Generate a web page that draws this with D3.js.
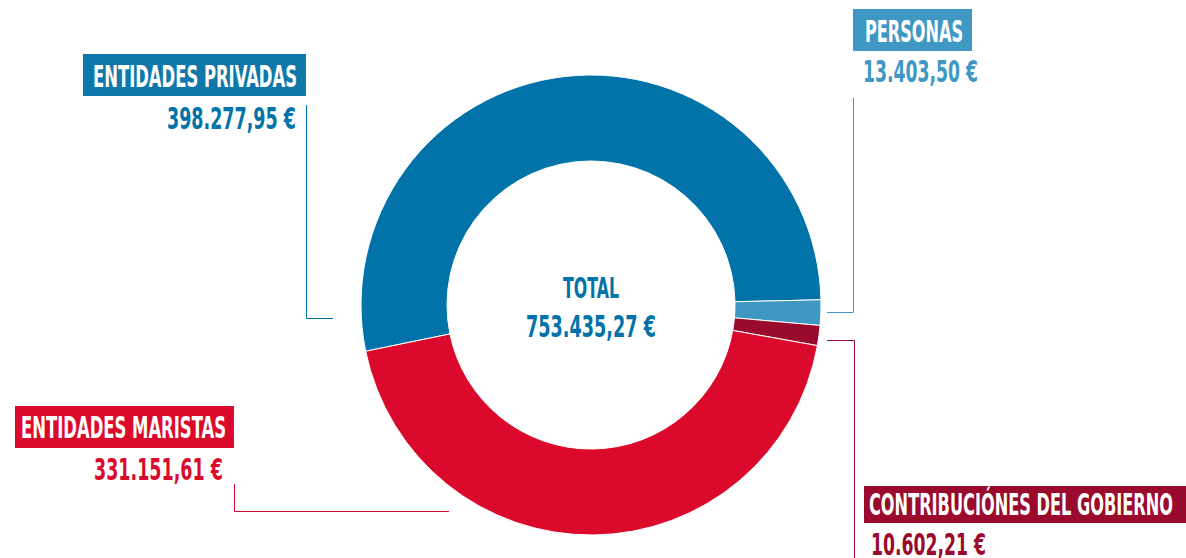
<!DOCTYPE html>
<html>
<head>
<meta charset="utf-8">
<script src="https://cdn.jsdelivr.net/npm/d3@7"></script>
<style>
  html, body { margin: 0; padding: 0; background: #fff; }
  svg { display: block; }
  text { font-family: "Liberation Sans Narrow", "DejaVu Sans Condensed", "Roboto", sans-serif; font-weight: bold; font-stretch: condensed; }
</style>
</head>
<body>
<svg id="chart" width="1186" height="558"></svg>
<script>
// ---- data ----
const categories = ["ENTIDADES PRIVADAS", "PERSONAS", "CONTRIBUCIÓNES DEL GOBIERNO", "ENTIDADES MARISTAS"];
const values = [398277.95, 13403.50, 10602.21, 331151.61];
const valueLabels = ["398.277,95 €", "13.403,50 €", "10.602,21 €", "331.151,61 €"];
const totalLabel = "TOTAL";
const totalValueLabel = "753.435,27 €";

// ---- styles / layout (separate from data) ----
const colors = ["#0173a9", "#3f97c4", "#990a2c", "#db0a2c"];
const boxColors = ["#1077ab", "#3f97c4", "#990a2c", "#db0a2c"];
const layout = [
  { box: [83, 54, 223, 42], title: [93, 87, 204, "start"], value: [296, 129, 129, "end"], leader: "M306.5,105 V318.5 H333" },
  { box: [853, 9, 119, 42], title: [865, 42, 98, "start"], value: [863, 82, 115, "start"], leader: "M853.5,98 V312.5 H827" },
  { box: [864, 486, 322, 37], title: [869, 515, 304, "start"], value: [871, 555, 115, "start"], leader: "M854.5,560 V340.5 H827" },
  { box: [15, 406, 219, 42], title: [21, 438, 205, "start"], value: [223, 480, 129, "end"], leader: "M234.5,484 V511.5 H449" }
];

const svg = d3.select("#chart");
const cx = 591, cy = 305, R = 230, r = 144;

const pie = d3.pie().sort(null).value(d => d)
  .startAngle(-101.6 * Math.PI / 180)
  .endAngle((360 - 101.6) * Math.PI / 180);
const arc = d3.arc().innerRadius(r).outerRadius(R);

const g = svg.append("g").attr("transform", `translate(${cx},${cy})`);
g.selectAll("path.slice")
  .data(pie(values))
  .join("path")
  .attr("class", "slice")
  .attr("d", arc)
  .attr("fill", (d, i) => colors[i])
  .attr("stroke", "#fff")
  .attr("stroke-width", 1);

// center total
g.append("text")
  .attr("x", 0).attr("y", 298 - cy)
  .attr("text-anchor", "middle")
  .attr("font-size", 29)
  .attr("fill", colors[0])
  .attr("textLength", 56).attr("lengthAdjust", "spacingAndGlyphs")
  .text(totalLabel);
g.append("text")
  .attr("x", 0).attr("y", 337 - cy)
  .attr("text-anchor", "middle")
  .attr("font-size", 30)
  .attr("fill", colors[0])
  .attr("textLength", 130).attr("lengthAdjust", "spacingAndGlyphs")
  .text(totalValueLabel);

// labels
categories.forEach((cat, i) => {
  const L = layout[i];
  svg.append("path")
    .attr("d", L.leader)
    .attr("fill", "none")
    .attr("stroke", colors[i])
    .attr("stroke-width", 1);
  svg.append("rect")
    .attr("x", L.box[0]).attr("y", L.box[1])
    .attr("width", L.box[2]).attr("height", L.box[3])
    .attr("fill", boxColors[i]);
  svg.append("text")
    .attr("x", L.title[0]).attr("y", L.title[1])
    .attr("text-anchor", L.title[3])
    .attr("font-size", 30)
    .attr("fill", "#fff")
    .attr("textLength", L.title[2]).attr("lengthAdjust", "spacingAndGlyphs")
    .text(cat);
  svg.append("text")
    .attr("x", L.value[0]).attr("y", L.value[1])
    .attr("text-anchor", L.value[3])
    .attr("font-size", 30)
    .attr("fill", colors[i])
    .attr("textLength", L.value[2]).attr("lengthAdjust", "spacingAndGlyphs")
    .text(valueLabels[i]);
});
</script>
</body>
</html>
